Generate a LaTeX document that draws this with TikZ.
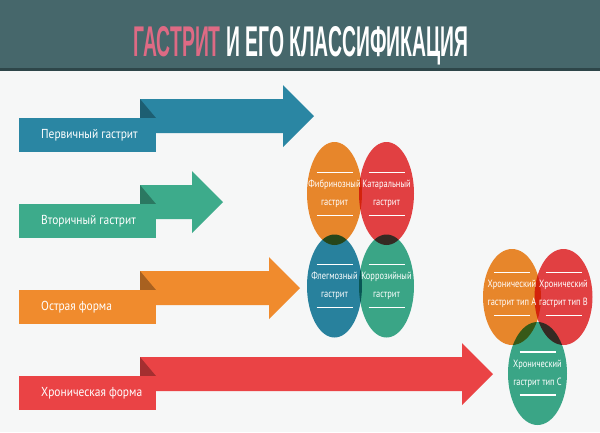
\documentclass[tikz,border=0pt]{standalone}
\usepackage{fontspec}
\setmainfont{PT Sans}
\newfontfamily\titlefont[FakeStretch=0.45]{Liberation Sans}
\newfontfamily\ribbonfont[FakeStretch=0.88]{PT Sans}
\newfontfamily\ovalfont[FakeStretch=0.8]{PT Sans}

\definecolor{band}{HTML}{46676B}
\definecolor{bandline}{HTML}{2E4649}
\definecolor{paper}{HTML}{F6F7F7}
\definecolor{cpink}{HTML}{DE6A84}
\definecolor{cblue}{HTML}{2A86A3}
\definecolor{cgreen}{HTML}{3DAB8B}
\definecolor{corange}{HTML}{F08B2D}
\definecolor{cred}{HTML}{EA4345}

\begin{document}
\begin{tikzpicture}[x=1pt,y=-1pt,
    ribbontext/.style={text=white, anchor=west, inner sep=0pt, font=\ribbonfont\fontsize{13}{15}\selectfont},
    ovaltext/.style={text=white, align=center, inner sep=0pt, font=\ovalfont\fontsize{10.5}{18}\selectfont},
    rule/.style={white, line width=1.4pt}]
    \useasboundingbox (0,0) rectangle (600,432);
    \fill[paper] (0,0) rectangle (600,432);

    % Header band
    \fill[band] (0,0) rectangle (600,69);
    \fill[bandline] (0,68) rectangle (600,71);
    \node[text=white, anchor=base, inner sep=0pt, font=\titlefont\bfseries\fontsize{43}{45}\selectfont] (title) at (301,56)
        {\textcolor{cpink}{ГАСТРИТ} И ЕГО КЛАССИФИКАЦИЯ};

    % Ribbon arrows: top of label / start of head / colour / text
    \foreach \yl/\xh/\col/\txt [count=\i] in {118/283/cblue/Первичный гастрит,
        204/192/cgreen/Вторичный гастрит, 290/269/corange/Острая форма,
        376/462/cred/Хроническая форма}{
        \fill[\col] (140,\yl-19) -- (\xh,\yl-19) -- (\xh,\yl-33) -- (\xh+31,\yl-2)
            -- (\xh,\yl+29) -- (\xh,\yl+15) -- (140,\yl+15) -- cycle;
        \fill[\col!70!black] (140,\yl-19) -- (156,\yl) -- (140,\yl) -- cycle;
        \fill[\col] (19,\yl) rectangle (156,\yl+34);
        \node[ribbontext] (arrow\i) at (41,\yl+17) {\txt};
    }

    % Ovals: centre / radii / colour
    \foreach \cx/\cy/\rx/\ry/\col in {334.5/193.5/27.5/51.5/corange, 386.5/193.5/27.5/51.5/cred,
        334.5/286/27.5/51.5/cblue, 386.5/286/27.5/51.5/cgreen,
        512/297/29/48/corange, 563.5/297/29/48/cred, 537.5/373.5/29.5/51.5/cgreen}
        \fill[\col, blend mode=multiply] (\cx,\cy) ellipse [x radius=\rx, y radius=\ry];

    % Oval texts with rules above and below
    \foreach \cx/\cy/\nm/\txt in {334.5/194/fibr/{Фибринозный\\гастрит},
        386.5/194/katar/{Катаральный\\гастрит}, 334.5/286/flegm/{Флегмозный\\гастрит},
        386.5/286/korr/{Коррозийный\\гастрит}, 512/294/typeA/{Хронический\\гастрит тип А},
        563.5/294/typeB/{Хронический\\гастрит тип В}, 537.5/373.5/typeC/{Хронический\\гастрит тип С}}{
        \node[ovaltext] (\nm) at (\cx,\cy) {\txt};
        \draw[rule] (\nm.center) ++(-18,-21.5) -- ++(36,0);
        \draw[rule] (\nm.center) ++(-18,21.5) -- ++(36,0);
    }
\end{tikzpicture}
\end{document}
